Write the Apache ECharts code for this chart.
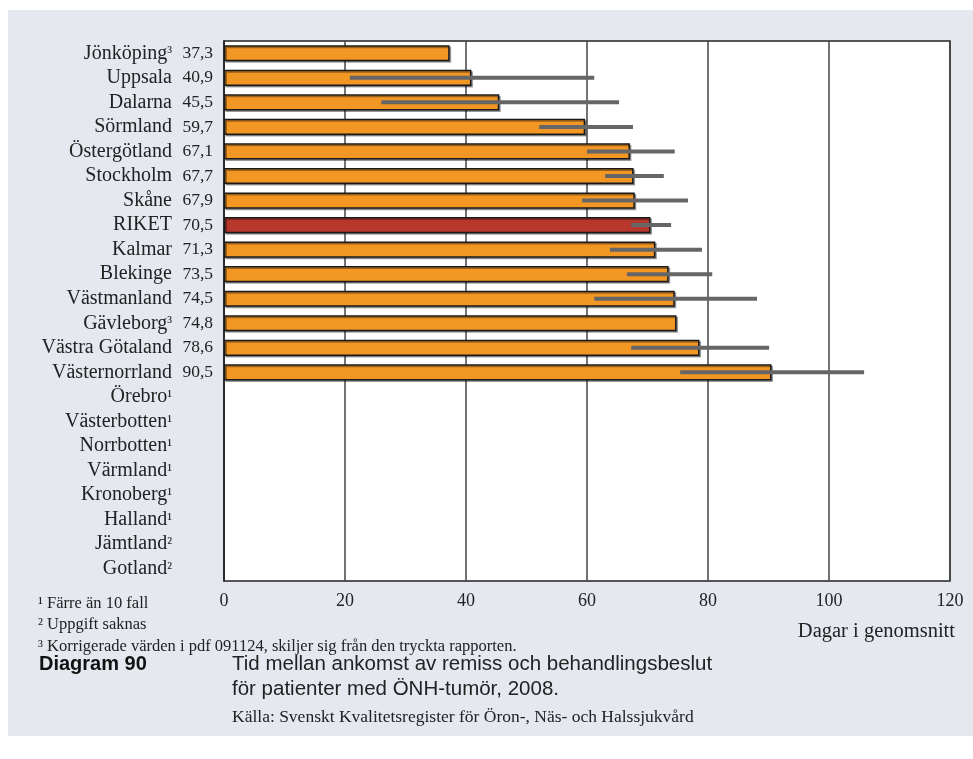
<!DOCTYPE html>
<html>
<head>
<meta charset="utf-8">
<script src="https://cdn.jsdelivr.net/npm/echarts@6/dist/echarts.min.js"></script>
<style>
html,body{margin:0;padding:0;background:#fff;}
#chart{width:973px;height:759px;}
</style>
</head>
<body>
<div id="chart"></div>
<script>
const categories = ['Jönköping','Uppsala','Dalarna','Sörmland','Östergötland','Stockholm','Skåne','RIKET','Kalmar','Blekinge','Västmanland','Gävleborg','Västra Götaland','Västernorrland','Örebro','Västerbotten','Norrbotten','Värmland','Kronoberg','Halland','Jämtland','Gotland'];
const notes = ['³','','','','','','','','','','','³','','','¹','¹','¹','¹','¹','¹','²','²'];
const values = [37.3,40.9,45.5,59.7,67.1,67.7,67.9,70.5,71.3,73.5,74.5,74.8,78.6,90.5,null,null,null,null,null,null,null,null];
const ciLow  = [null,20.8,26.0,52.1,60.0,63.0,59.2,67.3,63.8,66.6,61.2,null,67.3,75.4,null,null,null,null,null,null,null,null];
const ciHigh = [null,61.2,65.3,67.6,74.5,72.7,76.7,73.9,79.0,80.7,88.1,null,90.1,105.8,null,null,null,null,null,null,null,null];
const xTicks = [0,20,40,60,80,100,120];

const serif = '"Liberation Serif","DejaVu Serif",serif';
const sans = '"Liberation Sans",Arial,sans-serif';

const chart = echarts.init(document.getElementById('chart'), null, {renderer:'canvas'});

const barData = values.map((v,i)=>({
  value: v,
  itemStyle: { color: categories[i]==='RIKET' ? '#B8372C' : '#F29624' }
}));
const ciData = categories.map((c,i)=> ciLow[i]==null ? [i,null,null] : [i,ciLow[i],ciHigh[i]]);

const option = {
  backgroundColor: '#ffffff',
  animation: false,
  graphic: [
    {type:'rect', left:8, top:10, shape:{width:965, height:726}, style:{fill:'#E6E8F0'}, z:-10, silent:true},
    {type:'text', left:38, top:595, style:{text:'¹ Färre än 10 fall', font:'16.5px '+serif, fill:'#222'}},
    {type:'text', left:38, top:616, style:{text:'² Uppgift saknas', font:'16.5px '+serif, fill:'#222'}},
    {type:'text', left:38, top:638, style:{text:'³ Korrigerade värden i pdf 091124, skiljer sig från den tryckta rapporten.', font:'16.5px '+serif, fill:'#222'}},
    {type:'text', right:18, top:621, style:{text:'Dagar i genomsnitt', font:'20.5px '+serif, fill:'#222', align:'right'}},
    {type:'text', left:39, top:654, style:{text:'Diagram 90', font:'bold 20px '+sans, fill:'#111'}},
    {type:'text', left:232, top:654, style:{text:'Tid mellan ankomst av remiss och behandlingsbeslut', font:'20.5px '+sans, fill:'#222'}},
    {type:'text', left:232, top:679, style:{text:'för patienter med ÖNH-tumör, 2008.', font:'20.5px '+sans, fill:'#222'}},
    {type:'text', left:232, top:708, style:{text:'Källa: Svenskt Kvalitetsregister för Öron-, Näs- och Halssjukvård', font:'17.5px '+serif, fill:'#222'}}
  ],
  grid: {left:224, right:23, top:41, bottom:178, show:true, backgroundColor:'#ffffff', borderColor:'#222', borderWidth:1.5},
  xAxis: {
    type:'value', min:0, max:120, interval:20,
    axisLine:{show:false}, axisTick:{show:false},
    splitLine:{show:true, lineStyle:{color:'#444', width:1.5}},
    axisLabel:{margin:11, fontFamily:serif, fontSize:18, color:'#222',
      formatter: v => xTicks.includes(v) ? String(v) : ''}
  },
  yAxis: {
    type:'category', data:categories, inverse:true,
    axisLine:{show:true, lineStyle:{color:'#222', width:1.5}},
    axisTick:{show:false},
    axisLabel:{
      margin:11,
      formatter: (val, idx) => {
        const v = values[idx];
        const vs = v==null ? '\u00a0' : v.toFixed(1).replace('.', ',');
        return '{n|' + val + '}{s|' + (notes[idx] || '') + '}{v|' + vs + '}';
      },
      rich:{
        n:{fontFamily:serif, fontSize:20, color:'#222'},
        s:{fontFamily:serif, fontSize:16, color:'#222'},
        v:{fontFamily:serif, fontSize:17.5, color:'#222', width:41, align:'right'}
      }
    }
  },
  series: [
    {
      type:'bar', data:barData, barCategoryGap:'34%',
      itemStyle:{borderColor:'#1a1a1a', borderWidth:1.5, shadowColor:'rgba(0,0,0,0.35)', shadowOffsetX:1.5, shadowOffsetY:1.5, shadowBlur:0},
      z:2
    },
    {
      type:'custom', data:ciData, z:5,
      encode:{x:[1,2], y:0},
      renderItem:(params, api) => {
        const lo = api.value(1), hi = api.value(2);
        if (lo==null || hi==null || isNaN(lo) || isNaN(hi)) return null;
        const idx = api.value(0);
        const p1 = api.coord([lo, idx]);
        const p2 = api.coord([hi, idx]);
        return {type:'line', shape:{x1:p1[0], y1:p1[1], x2:p2[0], y2:p2[1]}, style:{stroke:'#666', lineWidth:4}};
      }
    }
  ]
};
chart.setOption(option);
</script>
</body>
</html>
